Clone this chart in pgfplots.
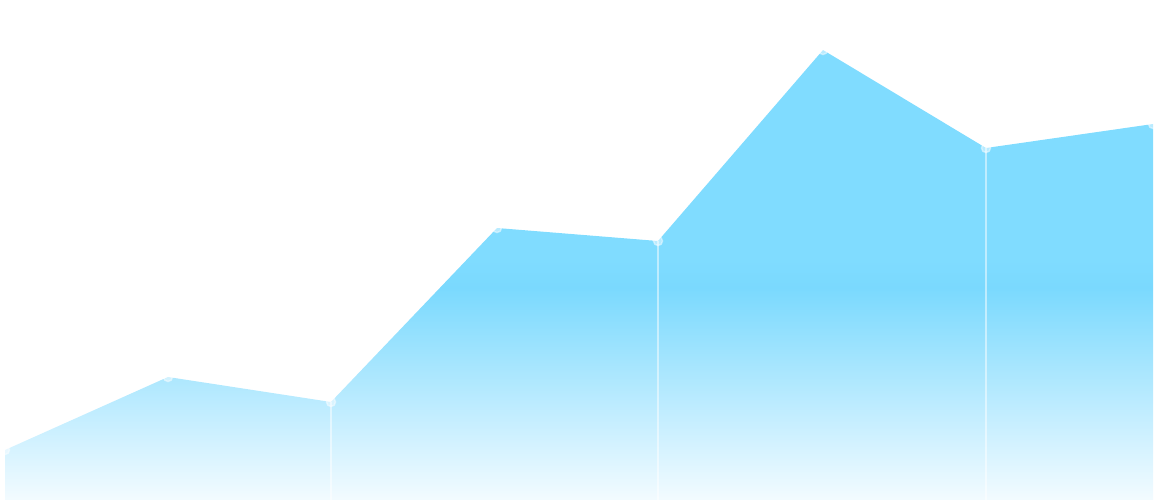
\documentclass[border=0pt]{standalone}
\usepackage{pgfplots}
\pgfplotsset{compat=1.18}

\definecolor{areablue}{HTML}{80DCFF}
\definecolor{areadeep}{HTML}{7AD9FE}
\definecolor{areapale}{HTML}{F3FBFF}

% path bbox spans 25bp..75bp of the shading: y 0..450 px
\pgfdeclareverticalshading{areafade}{100bp}{%
  color(0bp)=(areapale);
  color(25bp)=(areapale);
  color(48.6bp)=(areadeep);
  color(52bp)=(areablue);
  color(75bp)=(areablue);
  color(100bp)=(areablue)}

\begin{document}
\begin{tikzpicture}
\begin{axis}[
  scale only axis,
  width=11.6cm,
  height=5cm,
  xmin=0, xmax=1160,
  ymin=0, ymax=500,
  axis line style={draw=none},
  ticks=none,
  clip=false
]

\addplot [draw=none, shading=areafade] coordinates {
  (5,50) (168,123) (331,98) (497,272) (658,259) (823,450) (986,352) (1153,376)
} \closedcycle;

\addplot [white, opacity=0.5, line width=0.4pt] coordinates {(331,98) (331,0)};
\addplot [white, opacity=0.5, line width=0.4pt] coordinates {(658,259) (658,0)};
\addplot [white, opacity=0.5, line width=0.4pt] coordinates {(986,352) (986,0)};

\addplot [white, only marks, mark=*, mark size=1.3pt, opacity=0.45] coordinates {
  (5,50) (168,123) (331,98) (497,272) (658,259) (823,450) (986,352) (1153,376)
};
\end{axis}
\end{tikzpicture}
\end{document}
